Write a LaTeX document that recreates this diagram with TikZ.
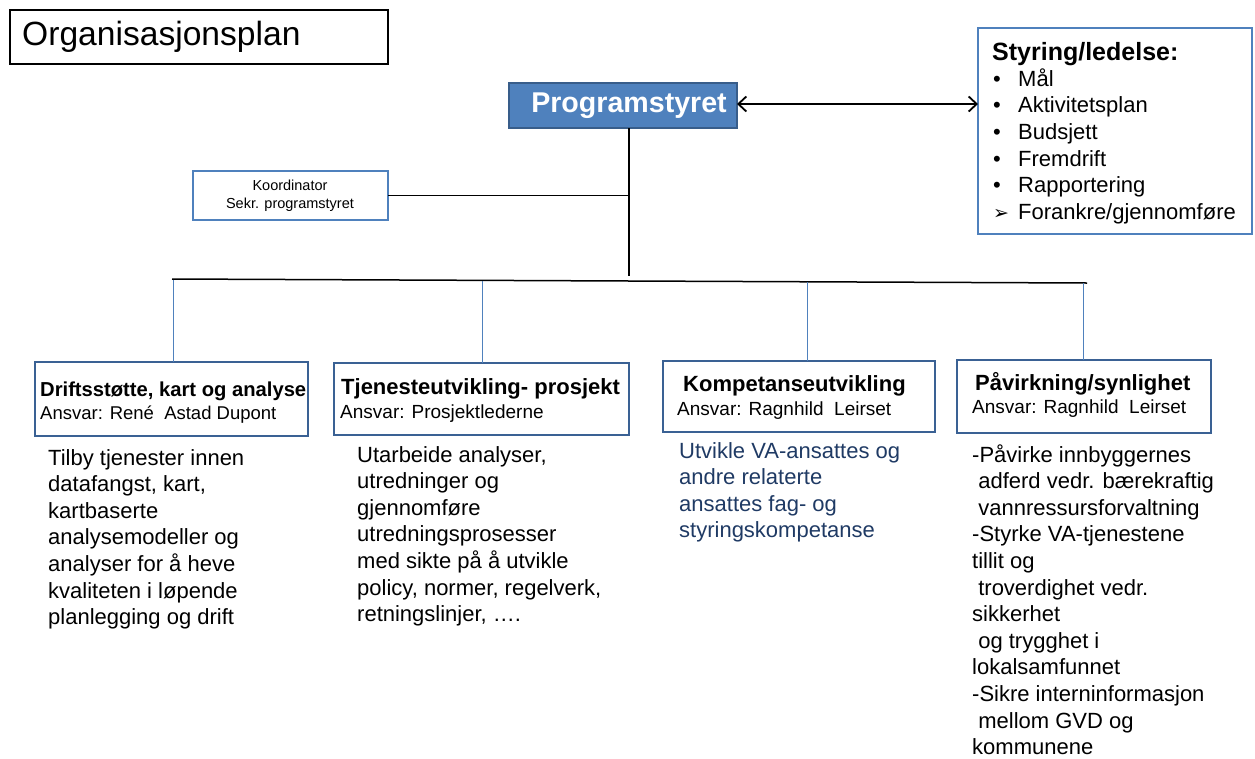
\documentclass[tikz,border=0pt]{standalone}
\usepackage{fontspec}
\setmainfont{Liberation Sans}
\newfontfamily\dejavu{DejaVu Sans}
\usetikzlibrary{arrows.meta}
\definecolor{progblue}{HTML}{4F81BD}
\definecolor{progedge}{HTML}{385D8A}
\definecolor{boxedge}{HTML}{3A6194}
\definecolor{navy}{HTML}{1F3A64}
\newcommand{\fs}[2]{\fontsize{#1}{#2}\selectfont}
\tikzset{
  plainbox/.style={draw, anchor=north west, inner sep=0pt, outer sep=0pt},
  headbox/.style={plainbox, draw=boxedge, line width=2.8pt},
  txt/.style={anchor=base west, inner sep=0pt, align=left},
  head/.style={txt, font=\fs{22}{26}\bfseries},
  ansvar/.style={txt, font=\fs{19}{23}},
  body/.style={txt, font=\fs{22}{26.6}},
  drop/.style={draw=progblue, line width=1pt},
  conn/.style={draw=black, line width=1.5pt}
}
\begin{document}
\begin{tikzpicture}[x=1pt,y=-1pt]
\useasboundingbox (0,0) rectangle (1255,758);
% title
\node[plainbox, line width=1.2pt, minimum width=378pt, minimum height=54pt] (titlebox) at (10,10) {};
\node[anchor=west, inner sep=0pt, font=\fs{33.6}{38}] (title) at (22,37) {Organisasjonsplan};
% Programstyret
\node[plainbox, fill=progblue, draw=progedge, line width=2pt, minimum width=228pt, minimum height=45pt] (prog) at (509,83) {};
\node[inner sep=0pt, text=white, font=\fs{28.6}{32}\bfseries] (progtxt) at (629,105.5) {Programstyret};
% Styring box
\node[plainbox, draw=progblue, line width=1.6pt, minimum width=274pt, minimum height=206pt] (styr) at (978,28) {};
\node[txt, font=\fs{25}{28}\bfseries] (styrtitle) at (992,60.5) {Styring/ledelse:};
\node[txt, font=\fs{22}{26.7}] (styritems) at (993,219.5)
 {\makebox[25pt][l]{•}Mål\\
  \makebox[25pt][l]{•}Aktivitetsplan\\
  \makebox[25pt][l]{•}Budsjett\\
  \makebox[25pt][l]{•}Fremdrift\\
  \makebox[25pt][l]{•}Rapportering\\
  \makebox[25pt][l]{\dejavu\fs{19}{22}➢}Forankre/gjennomføre};
% Koordinator
\node[plainbox, draw=progblue, line width=2.8pt, minimum width=195pt, minimum height=49pt] (koord) at (193,171) {};
\node[inner sep=0pt, align=center, font=\fs{14.5}{18}] (koordtxt) at (290,196) {Koordinator\\Sekr. programstyret};
% connectors
\coordinate (pv) at (629,276);
\coordinate (barL) at (172,279);
\coordinate (barR) at (1087,283);
\coordinate (b1) at (173,279.5);
\coordinate (b2) at (482,281);
\coordinate (b3) at (807,282);
\coordinate (b4) at (1083,283);
\draw[line width=1.8pt, {Straight Barb[length=8pt,width=15pt]}-{Straight Barb[length=8pt,width=15pt]}] (prog.east |- 0,104) -- (styr.west |- 0,104);
\draw[conn] (prog.south -| pv) -- (pv);
\draw[conn] (koord.east) -- (koord.east -| pv);
\draw[conn] (barL) -- (barR);
% boxes
\node[headbox, minimum width=273pt, minimum height=74pt] (box1) at (35,362) {};
\node[headbox, minimum width=295pt, minimum height=72pt] (box2) at (334,363) {};
\node[headbox, minimum width=272pt, minimum height=71pt] (box3) at (663,361) {};
\node[headbox, minimum width=254pt, minimum height=73pt] (box4) at (957,360) {};
\draw[drop] (b1) -- (b1 |- box1.north);
\draw[drop] (b2) -- (b2 |- box2.north);
\draw[drop] (b3) -- (b3 |- box3.north);
\draw[drop] (b4) -- (b4 |- box4.north);
% headers
\node[head, font=\fs{20.2}{24}\bfseries] (h1) at (40,396) {Driftsstøtte, kart og analyse};
\node[ansvar, font=\fs{18.5}{22}] (a1) at (40,419) {Ansvar: René\ \ Astad Dupont};
\node[head] (h2) at (341,394) {Tjenesteutvikling- prosjekt};
\node[ansvar] (a2) at (340,418) {Ansvar: Prosjektlederne};
\node[head] (h3) at (683,391) {Kompetanseutvikling};
\node[ansvar] (a3) at (677,415) {Ansvar: Ragnhild\ \ Leirset};
\node[head] (h4) at (975,390) {Påvirkning/synlighet};
\node[ansvar] (a4) at (972,413) {Ansvar: Ragnhild\ \ Leirset};
% bodies (anchored at the baseline of the last line)
\node[body] (t1) at (48,624.6) {Tilby tjenester innen\\datafangst, kart,\\kartbaserte\\analysemodeller og\\analyser for å heve\\kvaliteten i løpende\\planlegging og drift};
\node[body] (t2) at (357,621.6) {Utarbeide analyser,\\utredninger og\\gjennomføre\\utredningsprosesser\\med sikte på å utvikle\\policy, normer, regelverk,\\retningslinjer, ….};
\node[body, text=navy] (t3) at (679,537.8) {Utvikle VA-ansattes og\\andre relaterte\\ansattes fag- og\\styringskompetanse};
\node[body] (t4) at (972,754.6) {-Påvirke innbyggernes\\\ adferd vedr. bærekraftig\\\ vannressursforvaltning\\-Styrke VA-tjenestene\\tillit og\\\ troverdighet vedr.\\sikkerhet\\\ og trygghet i\\lokalsamfunnet\\-Sikre interninformasjon\\\ mellom GVD og\\kommunene};
\end{tikzpicture}
\end{document}
